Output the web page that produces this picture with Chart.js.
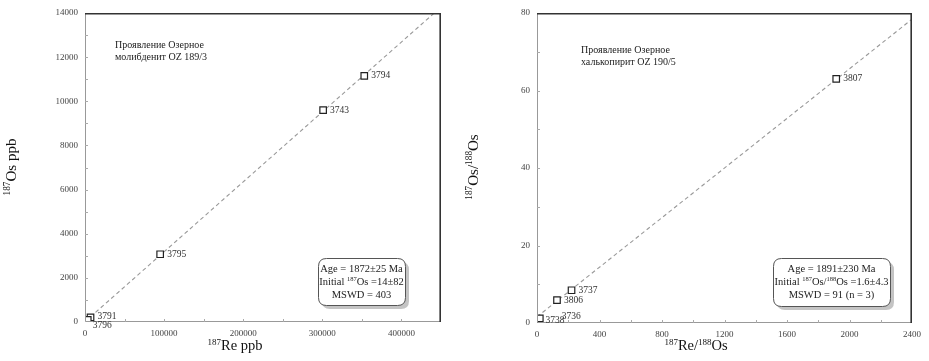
<!DOCTYPE html>
<html>
<head>
<meta charset="utf-8">
<script src="https://cdn.jsdelivr.net/npm/chart.js@4.4.1/dist/chart.umd.min.js"></script>
<style>
  body { margin: 0; background: #fff; }
  .box { position: absolute; top: 0; height: 361px; }
</style>
</head>
<body>
<div class="box" style="left:0;width:460px"><canvas id="chartLeft"></canvas></div>
<div class="box" style="left:460px;width:469px"><canvas id="chartRight"></canvas></div>
<script>
// левый график: молибденит OZ 189/3
var leftSamples = ['3794', '3743', '3795', '3791', '3796'];
var leftRe = [353000, 301000, 95000, 7000, 3500];
var leftOs = [11150, 9600, 3070, 210, 100];
var leftFitX = [0, 441500];
var leftFitY = [14, 14000];
var leftXTicks = [0, 100000, 200000, 300000, 400000];
var leftYTicks = [0, 2000, 4000, 6000, 8000, 10000, 12000, 14000];
var leftInfo = ['Age = 1872\u00b125 Ma', 'Initial |187|Os =14\u00b182', 'MSWD = 403'];
var leftNote = ['Проявление Озерное', 'молибденит OZ 189/3'];

// правый график: халькопирит OZ 190/5
var rightSamples = ['3807', '3737', '3806', '3738', '3736'];
var rightRe = [1915, 221, 128, 10, 18];
var rightOs = [63.0, 8.45, 5.9, 0.8, 1.2];
var rightFitX = [0, 2400];
var rightFitY = [1.6, 78.4];
var rightXTicks = [0, 400, 800, 1200, 1600, 2000, 2400];
var rightYTicks = [0, 20, 40, 60, 80];
var rightInfo = ['Age = 1891\u00b1230 Ma', 'Initial |187|Os/|188|Os =1.6\u00b14.3', 'MSWD = 91 (n = 3)'];
var rightNote = ['Проявление Озерное', 'халькопирит OZ 190/5'];

var SERIF = "'Liberation Serif', 'DejaVu Serif', serif";

// текст с верхними индексами: "|187|Os" -> 187 в верхнем индексе
function richParts(str) {
  var parts = str.split('|');
  var out = [];
  parts.forEach(function (p, i) {
    if (p !== '') out.push({ t: p, sup: i % 2 === 1 });
  });
  return out;
}
function richWidth(ctx, parts, size) {
  var w = 0;
  parts.forEach(function (p) {
    ctx.font = (p.sup ? size * 0.62 : size) + 'px ' + SERIF;
    w += ctx.measureText(p.t).width;
  });
  return w;
}
function drawRich(ctx, str, x, y, size, align) {
  var parts = richParts(str);
  var w = richWidth(ctx, parts, size);
  var cx = align === 'center' ? x - w / 2 : x;
  ctx.textBaseline = 'middle';
  ctx.textAlign = 'left';
  parts.forEach(function (p) {
    var s = p.sup ? size * 0.62 : size;
    ctx.font = s + 'px ' + SERIF;
    ctx.fillText(p.t, cx, p.sup ? y - size * 0.28 : y);
    cx += ctx.measureText(p.t).width;
  });
}
function roundRect(ctx, x, y, w, h, r) {
  ctx.beginPath();
  ctx.moveTo(x + r, y);
  ctx.lineTo(x + w - r, y);
  ctx.quadraticCurveTo(x + w, y, x + w, y + r);
  ctx.lineTo(x + w, y + h - r);
  ctx.quadraticCurveTo(x + w, y + h, x + w - r, y + h);
  ctx.lineTo(x + r, y + h);
  ctx.quadraticCurveTo(x, y + h, x, y + h - r);
  ctx.lineTo(x, y + r);
  ctx.quadraticCurveTo(x, y, x + r, y);
  ctx.closePath();
}

function makeDecor(cfg) {
  return {
    id: 'decor',
    afterDraw: function (chart) {
      var ctx = chart.ctx;
      var a = chart.chartArea;
      var xs = chart.scales.x, ys = chart.scales.y;
      ctx.save();

      // рамка
      ctx.strokeStyle = '#999';
      ctx.lineWidth = 1;
      ctx.beginPath();
      ctx.moveTo(a.left + 0.5, a.top);
      ctx.lineTo(a.left + 0.5, a.bottom - 0.5);
      ctx.lineTo(a.right, a.bottom - 0.5);
      ctx.stroke();
      ctx.strokeStyle = '#333';
      ctx.lineWidth = 1.6;
      ctx.beginPath();
      ctx.moveTo(a.left, a.top + 0.8);
      ctx.lineTo(a.right - 0.8, a.top + 0.8);
      ctx.lineTo(a.right - 0.8, a.bottom);
      ctx.stroke();

      // внутренние засечки
      ctx.strokeStyle = '#aaa';
      ctx.lineWidth = 1;
      ctx.beginPath();
      for (var v = xs.min + cfg.xMinor; v < xs.max; v += cfg.xMinor) {
        var px = Math.round(xs.getPixelForValue(v)) + 0.5;
        ctx.moveTo(px, a.bottom);
        ctx.lineTo(px, a.bottom - 3);
      }
      for (var u = ys.min + cfg.yMinor; u < ys.max; u += cfg.yMinor) {
        var py = Math.round(ys.getPixelForValue(u)) + 0.5;
        ctx.moveTo(a.left, py);
        ctx.lineTo(a.left + 3, py);
      }
      ctx.stroke();

      // подписи образцов
      ctx.fillStyle = '#333';
      ctx.font = '9.5px ' + SERIF;
      ctx.textBaseline = 'middle';
      ctx.textAlign = 'left';
      var meta = chart.getDatasetMeta(0);
      cfg.samples.forEach(function (name, i) {
        var el = meta.data[i];
        var n = cfg.nudge[name] || [7, 0];
        ctx.fillText(name, el.x + n[0], el.y + n[1]);
      });

      // название проявления
      ctx.fillStyle = '#222';
      ctx.font = '10px ' + SERIF;
      cfg.note.forEach(function (line, i) {
        ctx.fillText(line, cfg.notePos[0], cfg.notePos[1] + i * 12);
      });

      // блок с возрастом
      var b = cfg.infoBox;
      ctx.fillStyle = '#c4c4c4';
      roundRect(ctx, b[0] + 4, b[1] + 4, b[2], b[3], 8);
      ctx.fill();
      ctx.fillStyle = '#fff';
      ctx.strokeStyle = '#555';
      ctx.lineWidth = 1;
      roundRect(ctx, b[0] + 0.5, b[1] + 0.5, b[2], b[3], 8);
      ctx.fill();
      ctx.stroke();
      ctx.fillStyle = '#222';
      cfg.info.forEach(function (line, i) {
        drawRich(ctx, line, b[0] + b[2] / 2, b[1] + 11 + i * 13.3, 10.5, 'center');
      });

      // заголовки осей
      ctx.fillStyle = '#111';
      drawRich(ctx, cfg.xTitle, cfg.xTitlePos[0], cfg.xTitlePos[1], 14.5, 'center');
      ctx.translate(cfg.yTitlePos[0], cfg.yTitlePos[1]);
      ctx.rotate(-Math.PI / 2);
      drawRich(ctx, cfg.yTitle, 0, 0, 15, 'center');
      ctx.restore();
    }
  };
}

function buildChart(id, cfg) {
  var pts = cfg.re.map(function (x, i) { return { x: x, y: cfg.os[i] }; });
  var fit = cfg.fitX.map(function (x, i) { return { x: x, y: cfg.fitY[i] }; });
  var tickFont = { family: SERIF, size: 9 };
  return new Chart(document.getElementById(id), {
    type: 'scatter',
    data: {
      datasets: [
        {
          data: pts,
          pointStyle: 'rect',
          pointRadius: 4.6,
          pointBorderWidth: 1.2,
          pointBorderColor: '#222',
          pointBackgroundColor: '#fff',
          order: 0
        },
        {
          data: fit,
          showLine: true,
          pointRadius: 0,
          borderColor: '#999',
          borderWidth: 1.1,
          borderDash: [4, 3],
          order: 1
        }
      ]
    },
    options: {
      responsive: true,
      maintainAspectRatio: false,
      animation: false,
      layout: { padding: cfg.padding },
      plugins: { legend: { display: false }, tooltip: { enabled: false } },
      scales: {
        x: {
          type: 'linear',
          min: 0,
          max: cfg.xMax,
          afterBuildTicks: function (s) { s.ticks = cfg.xTicks.map(function (v) { return { value: v }; }); },
          afterFit: function (s) { s.height = cfg.xAxisH; },
          grid: { display: false, drawTicks: false, tickLength: 0 },
          border: { display: false },
          ticks: { font: tickFont, color: '#444', padding: 6, maxRotation: 0, autoSkip: false,
                   callback: function (v) { return String(v); } }
        },
        y: {
          type: 'linear',
          min: 0,
          max: cfg.yMax,
          afterBuildTicks: function (s) { s.ticks = cfg.yTicks.map(function (v) { return { value: v }; }); },
          afterFit: function (s) { s.width = cfg.yAxisW; },
          grid: { display: false, drawTicks: false, tickLength: 0 },
          border: { display: false },
          ticks: { font: tickFont, color: '#444', padding: 7, autoSkip: false,
                   callback: function (v) { return String(v); } }
        }
      }
    },
    plugins: [makeDecor(cfg)]
  });
}

buildChart('chartLeft', {
  samples: leftSamples, re: leftRe, os: leftOs, fitX: leftFitX, fitY: leftFitY,
  xTicks: leftXTicks, yTicks: leftYTicks, xMax: 450000, yMax: 14000,
  xMinor: 50000, yMinor: 1000,
  padding: { top: 13, right: 19, left: 0, bottom: 0 }, yAxisW: 85, xAxisH: 39,
  info: leftInfo, infoBox: [318, 258, 87, 47],
  note: leftNote, notePos: [115, 45],
  nudge: { '3791': [7, -1], '3796': [5, 6] },
  xTitle: '|187|Re ppb', xTitlePos: [235, 346.5],
  yTitle: '|187|Os ppb', yTitlePos: [12, 167]
});

buildChart('chartRight', {
  samples: rightSamples, re: rightRe, os: rightOs, fitX: rightFitX, fitY: rightFitY,
  xTicks: rightXTicks, yTicks: rightYTicks, xMax: 2400, yMax: 80,
  xMinor: 200, yMinor: 10,
  padding: { top: 13, right: 17, left: 0, bottom: 0 }, yAxisW: 77, xAxisH: 38,
  info: rightInfo, infoBox: [313, 258, 117, 48],
  note: rightNote, notePos: [121, 50],
  nudge: { '3738': [7, 1], '3736': [22, -2], '3806': [7, 0] },
  xTitle: '|187|Re/|188|Os', xTitlePos: [236, 346.5],
  yTitle: '|187|Os/|188|Os', yTitlePos: [14, 167]
});
</script>
</body>
</html>
